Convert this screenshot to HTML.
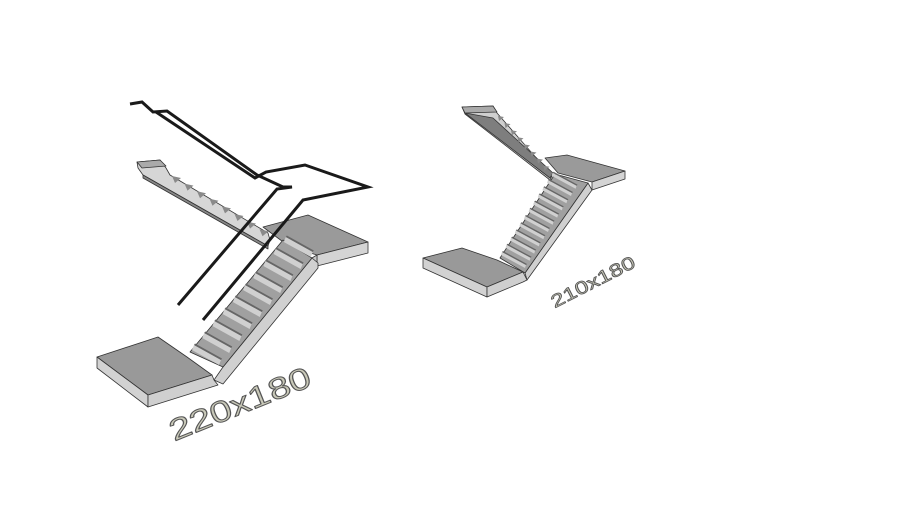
<!DOCTYPE html>
<html><head><meta charset="utf-8"><style>html,body{margin:0;padding:0;background:#fff;width:910px;height:512px;overflow:hidden}</style></head>
<body>
<svg id="s" width="910" height="512" viewBox="0 0 910 512" xmlns="http://www.w3.org/2000/svg" stroke-linejoin="round">
<g stroke="#333" stroke-width="0.8">
<polygon points="137,162 160,160 166,168 170,175 268,233 270,240 268,246 143,175 138,168" fill="#d6d6d6"/>
<polygon points="143,175 268,246 268,249 143,178" fill="#888"/>
<polygon points="137,162 160,160 166,166 142,168" fill="#aaa"/>
<g id="tri1" fill="#999" stroke="none"></g>
<polygon points="263,227 308,215 368,242 317,255 290,247" fill="#9a9a9a"/>
<polygon points="317,255 368,242 368,253 317,266" fill="#d4d4d4"/>
<polygon points="305,262 317,255 317,266 312,268" fill="#c8c8c8"/>
<polygon points="223,367 312,258 318,263 318,268 223,384 214,380" fill="#d0d0d0"/>
<polygon points="190,352 283,240 312,258 223,367" fill="#a0a0a0"/>
<g id="steps1" stroke="none"></g>
<polygon points="97,357 158,337 187,357 212,375 148,395" fill="#999"/>
<polygon points="97,357 148,395 148,407 97,368" fill="#d2d2d2"/>
<polygon points="148,395 212,375 214,380 218,385 148,407" fill="#cfcfcf"/>
</g>
<g fill="none" stroke="#1a1a1a" stroke-width="3" stroke-linejoin="miter">
<polyline points="130,104 142,102 153,112 167,111 257,175 283,187 292,187 277,189 178,305"/>
<polyline points="156,112 255,178 266,172 305,165 368,187 303,200 203,320"/>
</g>
<g stroke="#333" stroke-width="0.8">
<polygon points="462,107 493,106 497,113 552,176 550,180 465,114" fill="#cfcfcf"/>
<polygon points="465,113 493,118 553,173 550,178" fill="#7e7e7e"/>
<polygon points="462,107 493,106 497,112 465,113" fill="#aaa"/>
<g id="tri2" fill="#999" stroke="none"></g>
<polygon points="545,158 567,155 625,171 592,182 558,173" fill="#9a9a9a"/>
<polygon points="592,182 625,171 625,179 592,190" fill="#d4d4d4"/>
<polygon points="525,273 588,183 592,190 527,280" fill="#d0d0d0"/>
<polygon points="555,174 588,183 525,273 500,258" fill="#a0a0a0"/>
<g id="steps2" stroke="none"></g>
<polygon points="423,258 462,248 497,260 523,272 487,287" fill="#999"/>
<polygon points="423,258 487,287 487,297 423,268" fill="#d2d2d2"/>
<polygon points="487,287 523,272 527,280 523,282 487,297" fill="#cfcfcf"/>
</g>
<text x="240" y="414" transform="rotate(-22 240 404)" text-anchor="middle" font-family="Liberation Sans, sans-serif" font-size="30" fill="#c9c9b9" stroke="#555" stroke-width="1" textLength="150" lengthAdjust="spacingAndGlyphs">220x180</text>
<text x="593" y="288" transform="rotate(-27 593 282)" text-anchor="middle" font-family="Liberation Sans, sans-serif" font-size="18" fill="#c9c9b9" stroke="#555" stroke-width="0.8" textLength="92" lengthAdjust="spacingAndGlyphs">210x180</text>
</svg>
<script>
var NS="http://www.w3.org/2000/svg";
function poly(g,pts,fill){var p=document.createElementNS(NS,"polygon");p.setAttribute("points",pts.map(function(a){return a[0].toFixed(1)+","+a[1].toFixed(1)}).join(" "));p.setAttribute("fill",fill);document.getElementById(g).appendChild(p);}
for(var i=0;i<10;i++){var bx=192+10.2*i,by=350-12*i;
 poly("steps1",[[bx,by],[bx+27,by+15],[bx+29,by+10],[bx+2,by-5]],"#d0d0d0");
 poly("steps1",[[bx+2,by-5],[bx+29,by+10],[bx+30,by+8.5],[bx+3,by-6.5]],"#666");}
for(var i=0;i<12;i++){var bx=501+4.6*i,by=255-7.2*i;
 poly("steps2",[[bx,by],[bx+24,by+13],[bx+25,by+10],[bx+1,by-3]],"#d0d0d0");
 poly("steps2",[[bx+1,by-3],[bx+25,by+10],[bx+26,by+9],[bx+2,by-4]],"#666");}
for(var i=0;i<8;i++){var x=172+12.5*i,y=176+7.6*i;poly("tri1",[[x,y],[x+9,y+2],[x+3,y+7]],"#8a8a8a");}
for(var i=0;i<8;i++){var x=498+6.5*i,y=116+7.1*i;poly("tri2",[[x,y],[x+6,y+1],[x+1,y+5]],"#8a8a8a");}
</script>
</body></html>
